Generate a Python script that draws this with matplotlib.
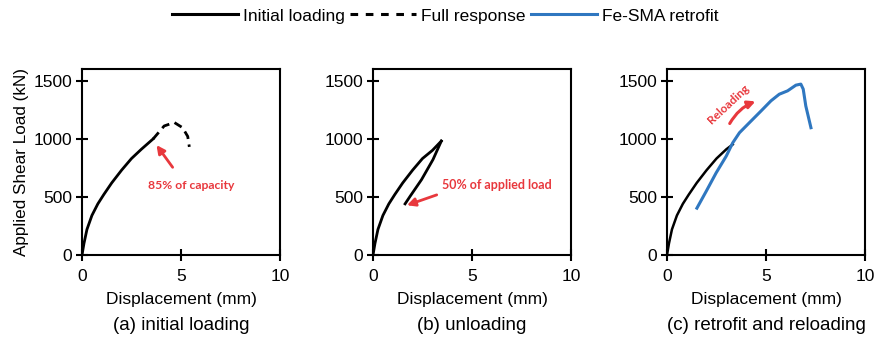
import matplotlib.pyplot as plt
from matplotlib.lines import Line2D

plt.rcParams['font.family'] = ['Liberation Sans', 'DejaVu Sans']

# initial loading curve (mm, kN)
init_x = [0, 0.1, 0.25, 0.5, 0.8, 1.1, 1.5, 2.0, 2.5, 3.0, 3.6]
init_y = [0, 100, 220, 340, 440, 520, 620, 730, 830, 910, 1000]

# full response continuation (dashed)
full_x = [3.6, 4.15, 4.66, 5.08, 5.34, 5.42]
full_y = [1000, 1110, 1140, 1095, 1020, 930]

# unloading branch
load_b_x = [0, 0.1, 0.25, 0.5, 0.8, 1.1, 1.5, 2.0, 2.5, 3.0, 3.45]
load_b_y = [0, 100, 220, 340, 440, 520, 620, 730, 830, 900, 980]
unload_x = [3.45, 3.03, 2.45, 1.87, 1.62]
unload_y = [980, 821, 648, 504, 440]

# panel c: initial loading up to retrofit
load_c_x = [0, 0.1, 0.25, 0.5, 0.8, 1.1, 1.5, 2.0, 2.5, 3.0, 3.32]
load_c_y = [0, 100, 220, 340, 440, 520, 620, 730, 830, 910, 951]

# Fe-SMA retrofit reloading
sma_x = [1.51, 1.98, 2.48, 2.99, 3.32, 3.66, 4.16, 4.75, 5.25, 5.67, 6.09, 6.51, 6.76, 6.88, 7.01, 7.27]
sma_y = [403, 548, 706, 850, 965, 1052, 1138, 1239, 1326, 1383, 1412, 1461, 1470, 1427, 1282, 1095]

red = '#e8383d'
blue = '#2f77c0'

fig = plt.figure(figsize=(8.78, 3.41), dpi=100)
W, H = 878, 341
lefts = [82, 373, 667]
axes = []
for l in lefts:
    ax = fig.add_axes([l / W, 1 - 255 / H, 198 / W, 186 / H])
    ax.set_xlim(0, 10)
    ax.set_ylim(0, 1600)
    ax.set_xticks([0, 5, 10])
    ax.set_yticks([0, 500, 1000, 1500])
    ax.tick_params(direction='inout', length=8, width=1.5, labelsize=12.5, colors='black')
    ax.tick_params(axis='y', pad=3)
    ax.tick_params(axis='x', pad=6)
    for s in ax.spines.values():
        s.set_linewidth(1.5)
    ax.set_xlabel('Displacement (mm)', fontsize=12.5, labelpad=6)
    axes.append(ax)

axes[0].set_ylabel('Applied Shear Load (kN)', fontsize=12.3, labelpad=3)

# (a)
ax = axes[0]
ax.plot(init_x, init_y, color='black', lw=2)
ax.plot(full_x, full_y, color='black', lw=2, ls=(0, (3, 2)))
ax.annotate('', xy=(3.68, 965), xytext=(4.66, 735),
            arrowprops=dict(arrowstyle='-|>', color=red, lw=2, mutation_scale=12))
ax.text(5.5, 600, '85% of capacity', color=red, fontsize=8.7, fontweight='bold',
        ha='center', va='center', family='Lato')

# (b)
ax = axes[1]
ax.plot(load_b_x, load_b_y, color='black', lw=2)
ax.plot(unload_x, unload_y, color='black', lw=2)
ax.annotate('', xy=(1.58, 420), xytext=(3.35, 525),
            arrowprops=dict(arrowstyle='-|>', color=red, lw=2, mutation_scale=12))
ax.text(3.5, 600, '50% of applied load', color=red, fontsize=9, fontweight='bold',
        ha='left', va='center', family='Lato')

# (c)
ax = axes[2]
ax.plot(load_c_x, load_c_y, color='black', lw=1.8)
ax.plot(sma_x, sma_y, color=blue, lw=2.2)
ax.annotate('', xy=(4.6, 1330), xytext=(3.1, 1110),
            arrowprops=dict(arrowstyle='-|>', color=red, lw=2.2, mutation_scale=11,
                            connectionstyle='arc3,rad=-0.2'))
ax.text(3.1, 1300, 'Reloading', color=red, fontsize=8.5, fontweight='bold',
        ha='center', va='center', rotation=43, family='Lato')

# subtitles
subs = ['(a) initial loading', '(b) unloading', '(c) retrofit and reloading']
for l, s in zip(lefts, subs):
    fig.text((l + 99) / W, 1 - 326 / H, s, ha='center', va='center', fontsize=13.5)

# legend
handles = [Line2D([], [], color='black', lw=2.2),
           Line2D([], [], color='black', lw=2.2, ls=(0, (2.5, 2.5))),
           Line2D([], [], color=blue, lw=2.2)]
fig.legend(handles, ['Initial loading', 'Full response', 'Fe-SMA retrofit'],
           loc='center', bbox_to_anchor=(445 / W, 1 - 16 / H), ncol=3, frameon=False,
           fontsize=12.5, handlelength=3.8, columnspacing=0.3, handletextpad=0.3)

fig.savefig('out.png', dpi=100)
